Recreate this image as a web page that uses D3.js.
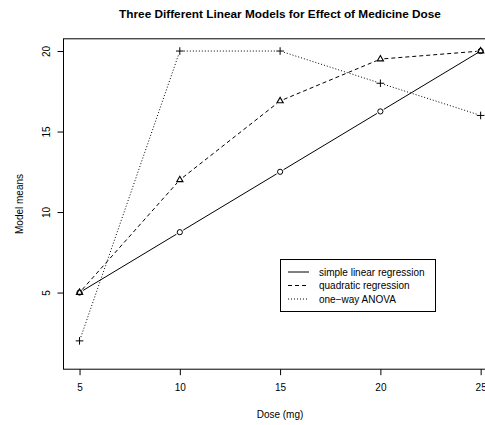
<!DOCTYPE html>
<html><head><meta charset="utf-8">
<script src="https://cdn.jsdelivr.net/npm/d3@7"></script>
<style>body{margin:0;background:#fff}svg{display:block}text{font-family:"Liberation Sans",Arial,Helvetica,sans-serif;fill:#000}</style>
</head><body>
<script>
const doses = [5, 10, 15, 20, 25];
const linearMeans = [5, 8.75, 12.5, 16.25, 20];
const quadraticMeans = [5, 12, 16.9, 19.5, 20];
const anovaMeans = [2, 20, 20, 18, 16];
const xTicks = [5, 10, 15, 20, 25];
const yTicks = [5, 10, 15, 20];
const legendLabels = ["simple linear regression", "quadratic regression", "one\u2212way ANOVA"];
const title = "Three Different Linear Models for Effect of Medicine Dose";

const W = 485, H = 425;
const svg = d3.select("body").append("svg").attr("width", W).attr("height", H);
const x = d3.scaleLinear().domain([4.2, 25.8]).range([63.5, 496.7]);
const y = d3.scaleLinear().domain([0.24, 20.76]).range([369.2, 38.8]);

svg.append("text").attr("x", 280).attr("y", 18).attr("text-anchor", "middle")
  .attr("font-weight", "bold").attr("font-size", 11.8).text(title);

// axes
const xa = svg.append("g").attr("transform", `translate(0,${y.range()[0]})`)
  .call(d3.axisBottom(x).tickValues(xTicks).tickSize(6).tickPadding(9).tickFormat(d3.format("d")));
const ya = svg.append("g").attr("transform", `translate(${x.range()[0]},0)`)
  .call(d3.axisLeft(y).tickValues(yTicks).tickSize(6).tickPadding(0).tickFormat(d3.format("d")));
[xa, ya].forEach(g => {
  g.select(".domain").remove();
  g.selectAll("line").attr("stroke", "#000");
  g.selectAll("text").attr("font-size", 10).attr("font-family", '"Liberation Sans",Arial,sans-serif');
});
ya.selectAll(".tick text").attr("x", null).attr("dy", null).attr("text-anchor", "middle")
  .attr("transform", "translate(-17,0) rotate(-90)").attr("dominant-baseline", "middle").attr("dy", "0.05em");

svg.append("rect").attr("x", x.range()[0]).attr("y", y.range()[1])
  .attr("width", x.range()[1] - x.range()[0]).attr("height", y.range()[0] - y.range()[1])
  .attr("fill", "none").attr("stroke", "#000").attr("stroke-width", 1);

svg.append("text").attr("x", 280).attr("y", 418).attr("text-anchor", "middle").attr("font-size", 10).text("Dose (mg)");
svg.append("text").attr("transform", `translate(23,204) rotate(-90)`).attr("text-anchor", "middle").attr("font-size", 10).text("Model means");

const series = [
  {vals: linearMeans, dash: null, shape: "circle"},
  {vals: quadraticMeans, dash: "4,3", shape: "triangle"},
  {vals: anovaMeans, dash: "1,2", shape: "plus"}
];
const line = d3.line().x(d => x(d[0])).y(d => y(d[1]));
series.forEach(s => {
  const pts = doses.map((d, i) => [d, s.vals[i]]);
  for (let i = 0; i < pts.length - 1; i++) {
    const x0 = x(pts[i][0]), y0 = y(pts[i][1]), x1 = x(pts[i+1][0]), y1 = y(pts[i+1][1]);
    const L = Math.hypot(x1 - x0, y1 - y0), g = 4;
    const ux = (x1 - x0) / L, uy = (y1 - y0) / L;
    svg.append("path").attr("d", line([[x.invert(x0 + ux*g), y.invert(y0 + uy*g)], [x.invert(x1 - ux*g), y.invert(y1 - uy*g)]]))
      .attr("fill", "none").attr("stroke", "#000").attr("stroke-width", 1)
      .attr("stroke-dasharray", s.dash);
  }
  pts.forEach(p => {
    const cx = x(p[0]), cy = y(p[1]);
    if (s.shape === "circle") {
      svg.append("circle").attr("cx", cx).attr("cy", cy).attr("r", 2.6).attr("fill", "none").attr("stroke", "#000");
    } else if (s.shape === "triangle") {
      const r = 3.6;
      svg.append("path").attr("d", `M${cx},${cy - r}L${cx + r*0.866},${cy + r*0.5}L${cx - r*0.866},${cy + r*0.5}Z`)
        .attr("fill", "none").attr("stroke", "#000").attr("stroke-width", 1.1);
    } else {
      const r = 3.8;
      svg.append("path").attr("d", `M${cx - r},${cy}H${cx + r}M${cx},${cy - r}V${cy + r}`)
        .attr("fill", "none").attr("stroke", "#000").attr("stroke-width", 1);
    }
  });
});

// legend
const lg = svg.append("g");
lg.append("rect").attr("x", 280.5).attr("y", 259.5).attr("width", 155).attr("height", 52)
  .attr("fill", "#fff").attr("stroke", "#000");
const ry = [272, 285.5, 299];
series.forEach((s, i) => {
  lg.append("line").attr("x1", 288).attr("x2", 309).attr("y1", ry[i]).attr("y2", ry[i])
    .attr("stroke", "#000").attr("stroke-dasharray", s.dash);
  lg.append("text").attr("x", 319).attr("y", ry[i]).attr("dy", "0.35em").attr("font-size", 10).text(legendLabels[i]);
});
</script>
</body></html>
